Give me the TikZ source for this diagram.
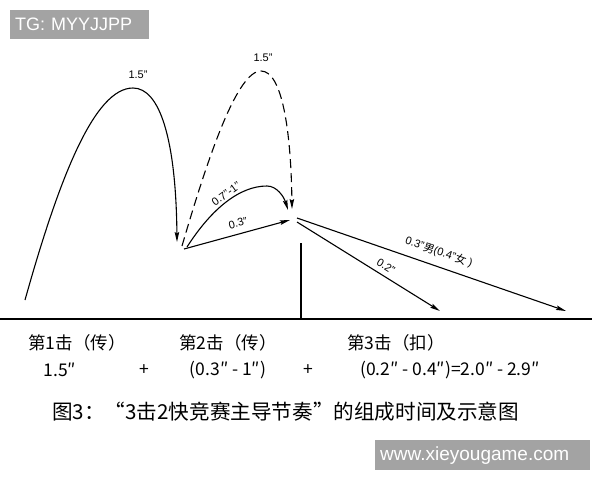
\documentclass[tikz,border=0pt]{standalone}
\usepackage{fontspec}
\setmainfont{Liberation Sans}
\newfontfamily\cjk{Noto Sans CJK SC}
\usetikzlibrary{arrows.meta}
\definecolor{wmgray}{rgb}{0.64, 0.64, 0.64}

\begin{document}
\begin{tikzpicture}[x=1pt,y=1pt,yscale=-1,xscale=1,
	curve/.style={line width=1.1pt},
	tipped/.style={curve,-{Stealth[length=10pt,width=4.5pt,inset=1.5pt]}},
	lbl/.style={inner sep=0.75pt,font=\fontsize{11}{12}\selectfont},
	rowtext/.style={inner sep=0pt,font=\cjk\fontsize{17.5}{19}\selectfont},
	wmbox/.style={fill=wmgray,text=white,inner xsep=5pt,inner ysep=0pt,anchor=north west,align=left}]
		\useasboundingbox (0,0) rectangle (600,480);

		% Draw the horizontal base line and the vertical mark
		\coordinate (left) at (0,319);
		\coordinate (right) at (592,319);
		\coordinate (mtop) at (301,243);
		\coordinate (mfoot) at (301,319);
		\draw[line width=1.3pt] (left) -- (right);
		\draw[curve] (mtop) -- (mfoot);

		% The first hit: high arc with arrow
		\coordinate (s1) at (25,300);
		\coordinate (p1) at (133,88);
		\coordinate (e1) at (177,242);
		\draw[tipped] (s1) .. controls (60,175) and (95,88) .. (p1) .. controls (160,88) and (176,140) .. (e1);
		\node[lbl] (t1) at (138,75) {1.5"};

		% The second hit: dashed high arc
		\coordinate (s2) at (182,246);
		\coordinate (p2) at (261,71);
		\coordinate (e2) at (292,209);
		\draw[tipped, dash pattern=on 9pt off 5pt] (s2) .. controls (210,150) and (238,71) .. (p2) .. controls (282,71) and (291,130) .. (e2);
		\node[lbl] (t2) at (263,58) {1.5"};

		% The second hit: low arc and straight pass
		\coordinate (s3) at (187,247);
		\coordinate (p3) at (267,186);
		\coordinate (e3) at (288,210);
		\draw[tipped] (s3) .. controls (212,208) and (240,186) .. (p3) .. controls (277,186) and (284,197) .. (e3);
		\node[lbl, rotate=36] (t3) at (226,194) {0.7"-1"};
		\coordinate (s4) at (184,249);
		\coordinate (e4) at (290,220);
		\draw[tipped] (s4) -- (e4);
		\node[lbl, rotate=15] (t4) at (238,223) {0.3"};

		% The third hit: two attack lines
		\coordinate (s5) at (297,222);
		\coordinate (e5) at (440,311);
		\draw[tipped] (s5) -- (e5);
		\node[lbl, rotate=-32] (t5) at (386,266) {0.2"};
		\coordinate (s6) at (297,218);
		\coordinate (e6) at (566,311);
		\draw[tipped] (s6) -- (e6);
		\node[lbl, rotate=-19] (t6) at (439,252) {0.3"{\cjk 男}(0.4"{\cjk 女} )};

		% The names of the hits
		\node[rowtext] (h1) at (77,343) {第1击（传）};
		\node[rowtext] (h2) at (228,343) {第2击（传）};
		\node[rowtext] (h3) at (396,343) {第3击（扣）};

		% The times of the hits
		\node[rowtext] (n1) at (60,370) {1.5″};
		\node[rowtext] (plus1) at (144,370) {+};
		\node[rowtext] (n2) at (228,370) {(0.3″ - 1″)};
		\node[rowtext] (plus2) at (308,370) {+};
		\node[rowtext] (n3) at (450,370) {(0.2″ - 0.4″)=2.0″ - 2.9″};

		% The caption
		\node[inner sep=0pt, anchor=west, font=\cjk\fontsize{20.6}{22}\selectfont] (cap) at (52,412) {图3：“3击2快竞赛主导节奏”的组成时间及示意图};

		% The grey marks
		\node[wmbox, text width=129pt, minimum height=29pt, font=\fontsize{18}{18}\selectfont] (tg) at (10,10) {TG: MYYJJPP};
		\node[wmbox, text width=205pt, minimum height=30pt, font=\fontsize{19}{19}\selectfont] (www) at (375,440) {www.xieyougame.com};
	\end{tikzpicture}
\end{document}
